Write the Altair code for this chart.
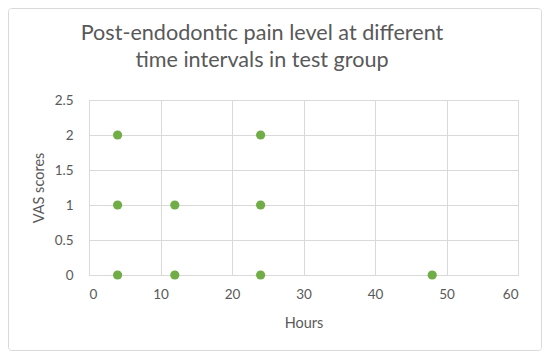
import altair as alt
import pandas as pd

hours = [4, 4, 4, 12, 12, 24, 24, 24, 48]
vas = [2, 1, 0, 1, 0, 2, 1, 0, 0]
x_ticks = [0, 10, 20, 30, 40, 50, 60]
y_ticks = [0, 0.5, 1, 1.5, 2, 2.5]
title_lines = ["Post-endodontic pain level at different", "time intervals in test group"]

df = pd.DataFrame({"Hours": hours, "VAS": vas})
FONT = "Lato"
TXT = "#595959"
GRID = "#d9d9d9"

W, H = 429, 175

border = alt.Chart(pd.DataFrame({"a": [0]})).mark_rect(
    fill=None, fillOpacity=0, stroke=GRID, strokeWidth=1, cornerRadius=3
).encode(
    x=alt.value(-80.5), x2=alt.value(452.5), y=alt.value(-91.5), y2=alt.value(250.5)
)

title = alt.Chart(pd.DataFrame({"a": [0]})).mark_text(
    font=FONT, fontSize=21.6, color=TXT, align="center", baseline="alphabetic",
    lineHeight=27
).encode(
    x=alt.value(173), y=alt.value(-60), text=alt.value(title_lines)
)

points = alt.Chart(df).mark_circle(size=85, color="#70AD47", opacity=1).encode(
    x=alt.X("Hours:Q", title="Hours",
            scale=alt.Scale(domain=[0, 60], nice=False),
            axis=alt.Axis(values=x_ticks, labelPadding=12, titlePadding=16)),
    y=alt.Y("VAS:Q", title="VAS scores",
            scale=alt.Scale(domain=[0, 2.5], nice=False),
            axis=alt.Axis(values=y_ticks, format="~g", labelPadding=16, titlePadding=8)),
)

chart = alt.layer(border, title, points).properties(
    width=W, height=H, padding=0, background="white",
).configure_axis(
    labelFont=FONT, titleFont=FONT, labelColor=TXT, titleColor=TXT,
    labelFontSize=13.5, titleFontSize=14.5, titleFontWeight="normal",
    gridColor=GRID, domainColor=GRID, ticks=False, grid=True,
).configure_view(stroke=GRID)

chart.save("out.html", embed_options={"renderer": "svg", "actions": False})
